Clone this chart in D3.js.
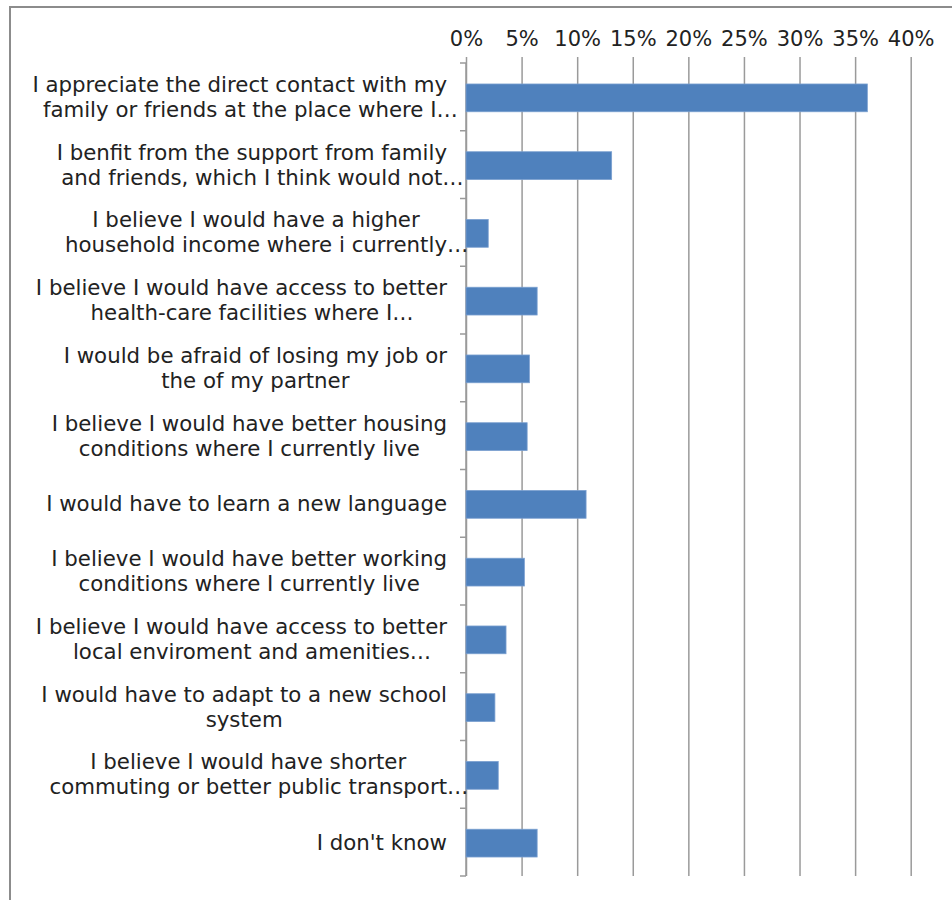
<!DOCTYPE html>
<html>
<head>
<meta charset="utf-8">
<script src="https://cdn.jsdelivr.net/npm/d3@7"></script>
<style>
  html, body { margin: 0; padding: 0; background: #fff; }
  svg { display: block; }
  text { font-family: "DejaVu Sans", Verdana, sans-serif; fill: #222; }
</style>
</head>
<body>
<svg id="chart" width="952" height="900"></svg>
<script>
// Reasons for staying: share of respondents per answer (percent)
const categories = [
  ["I appreciate the direct contact with my", "family or friends at the place where I\u2026"],
  ["I benfit from the support from family", "and friends, which I think would not\u2026"],
  ["I believe I would have a higher", "household income where i currently\u2026"],
  ["I believe I would have access to better", "health-care facilities where I\u2026"],
  ["I would be afraid of losing my job or", "the of my partner"],
  ["I believe I would have better housing", "conditions where I currently live"],
  ["I would have to learn a new language"],
  ["I believe I would have better working", "conditions where I currently live"],
  ["I believe I would have access to better", "local enviroment and amenities\u2026"],
  ["I would have to adapt to a new school", "system"],
  ["I believe I would have shorter", "commuting or better public transport\u2026"],
  ["I don't know"]
];
const shares = [36.1, 13.1, 2.0, 6.4, 5.7, 5.5, 10.8, 5.25, 3.6, 2.6, 2.9, 6.4];
const tickValues = [0, 5, 10, 15, 20, 25, 30, 35, 40];
const tickLabels = ["0%", "5%", "10%", "15%", "20%", "25%", "30%", "35%", "40%"];

const svg = d3.select("#chart");
const plot = { left: 466, right: 910.7, top: 63, bottom: 876 };
const fontSize = 21.3;

const data = categories.map((lines, i) => ({ key: "c" + i, lines, value: shares[i] }));

const x = d3.scaleLinear().domain([0, 40]).range([plot.left, plot.right]);
const y = d3.scaleBand().domain(data.map(d => d.key)).range([plot.top, plot.bottom]).padding(0);

// chart frame
svg.append("path")
  .attr("d", "M10,900V7H952")
  .attr("fill", "none")
  .attr("stroke", "#8c8c8c")
  .attr("stroke-width", 2);

// value axis on top, with gridlines running through the plot
const xAxis = d3.axisTop(x)
  .tickValues(tickValues)
  .tickFormat((d, i) => tickLabels[i])
  .tickSizeInner(-(plot.bottom - plot.top + 6))
  .tickSizeOuter(0)
  .tickPadding(11);

const gx = svg.append("g")
  .attr("transform", `translate(0,${plot.top - 6})`)
  .call(xAxis);
gx.select(".domain").remove();
gx.selectAll(".tick line").attr("stroke", "#9a9a9a").attr("stroke-width", 1.5);
gx.selectAll(".tick text")
  .attr("font-size", 21)
  .attr("font-family", "DejaVu Sans, Verdana, sans-serif")
  .attr("fill", "#222");

// category axis: line plus ticks at band boundaries
const boundaries = data.map(d => y(d.key)).concat([plot.bottom]);
svg.append("line")
  .attr("x1", plot.left).attr("x2", plot.left)
  .attr("y1", plot.top).attr("y2", plot.bottom)
  .attr("stroke", "#9a9a9a").attr("stroke-width", 1.5);
svg.append("g").selectAll("line")
  .data(boundaries)
  .join("line")
  .attr("x1", plot.left - 6).attr("x2", plot.left)
  .attr("y1", d => d).attr("y2", d => d)
  .attr("stroke", "#9a9a9a").attr("stroke-width", 1.5);

// bars
const barH = y.bandwidth() * 0.41;
svg.append("g").selectAll("rect")
  .data(data)
  .join("rect")
  .attr("x", x(0))
  .attr("y", d => y(d.key) + (y.bandwidth() - barH) / 2 + 1)
  .attr("width", d => x(d.value) - x(0))
  .attr("height", barH)
  .attr("fill", "#4f81bd")
  .attr("stroke", "#7a9fd0")
  .attr("stroke-width", 0.8);

// wrapped category labels: lines centred on each other, block right-aligned
const labelRight = 447;
const lineGap = 25;
const labels = svg.append("g");
data.forEach(d => {
  const cy = y(d.key) + y.bandwidth() / 2;
  const n = d.lines.length;
  const items = d.lines.map((t, j) => {
    const el = labels.append("text")
      .attr("font-size", fontSize)
      .attr("dominant-baseline", "central")
      .attr("y", cy + (j - (n - 1) / 2) * lineGap)
      .text(t.replace(/\u2026$/, ""));
    const w = el.node().getComputedTextLength();
    return { el, t, w };
  });
  const blockW = d3.max(items, it => it.w);
  const cx = labelRight - blockW / 2;
  items.forEach(it => {
    it.el.attr("x", cx - it.w / 2).text(it.t);
  });
});
</script>
</body>
</html>
